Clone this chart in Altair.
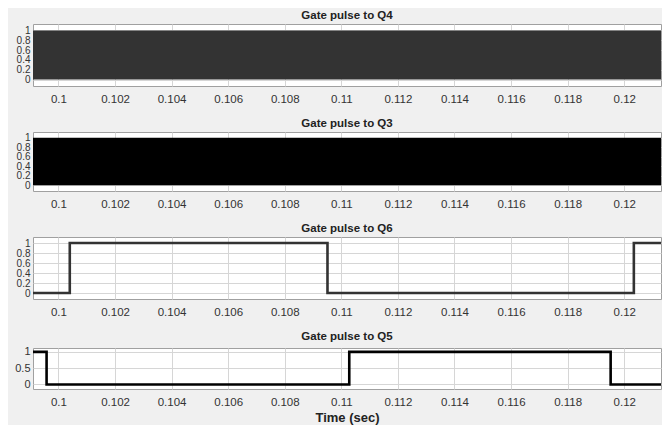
import altair as alt
import pandas as pd

# ---- data ----
x_domain = [0.0991, 0.1213]
x_ticks = [0.1, 0.102, 0.104, 0.106, 0.108, 0.11, 0.112, 0.114, 0.116, 0.118, 0.12]
y_ticks_fine = [0, 0.2, 0.4, 0.6, 0.8, 1]
y_ticks_coarse = [0, 0.5, 1]

titles = ["Gate pulse to Q4", "Gate pulse to Q3", "Gate pulse to Q6", "Gate pulse to Q5"]

# Q4 / Q3: high-frequency PWM, rendered as a solid band between 0 and 1
q4_t0 = [0.0991]
q4_t1 = [0.1213]
q4_lo = [0]
q4_hi = [1]
q3_t0 = [0.0991]
q3_t1 = [0.1213]
q3_lo = [0]
q3_hi = [1]

# Q6 / Q5: low-frequency gate pulses (switching instants)
q6_t = [0.0991, 0.1004, 0.10951, 0.12034, 0.1213]
q6_v = [0, 1, 0, 1, 1]
q5_t = [0.0991, 0.09958, 0.11028, 0.11952, 0.1213]
q5_v = [1, 0, 1, 0, 0]

FONT = "Liberation Sans, Arial, Helvetica, sans-serif"
W = 628


def xenc(title=None):
    return alt.X(
        "t:Q",
        scale=alt.Scale(domain=x_domain, nice=False, zero=False),
        axis=alt.Axis(
            values=x_ticks, format="~g", grid=True, ticks=False, domain=False,
            labelPadding=7, labelFontSize=11.5, minExtent=18, maxExtent=18, titlePadding=4,
            titleFont=FONT, titleFontSize=13, titleFontWeight="bold", titleColor="#222222",
        ),
        title=title,
    )


def yenc(field, ticks, dom, size):
    return alt.Y(
        f"{field}:Q",
        scale=alt.Scale(domain=dom, nice=False, zero=False),
        axis=alt.Axis(
            values=ticks, format="~g", grid=True, ticks=False, domain=False,
            labelPadding=3, minExtent=24, maxExtent=24, labelOverlap=False,
            labelFontSize=size,
        ),
        title=None,
    )


def ttl(text):
    return alt.TitleParams(text, fontSize=11.5, fontWeight="bold", font=FONT,
                           offset=3, anchor="middle", color="#222222")


q4_df = pd.DataFrame({"t": q4_t0, "t1": q4_t1, "lo": q4_lo, "hi": q4_hi})
q3_df = pd.DataFrame({"t": q3_t0, "t1": q3_t1, "lo": q3_lo, "hi": q3_hi})
q6_df = pd.DataFrame({"t": q6_t, "v": q6_v})
q5_df = pd.DataFrame({"t": q5_t, "v": q5_v})

p1 = alt.Chart(q4_df).mark_rect(color="#333333", clip=True).encode(
    x=xenc(), x2="t1:Q", y=yenc("lo", y_ticks_fine, [-0.13, 1.13], 10), y2="hi:Q"
).properties(width=W, height=62, title=ttl(titles[0]))

p2 = alt.Chart(q3_df).mark_rect(color="#000000", clip=True).encode(
    x=xenc(), x2="t1:Q", y=yenc("lo", y_ticks_fine, [-0.12, 1.12], 10), y2="hi:Q"
).properties(width=W, height=59, title=ttl(titles[1]))

p3 = alt.Chart(q6_df).mark_line(color="#333333", strokeWidth=2.6,
                                interpolate="step-after", clip=True).encode(
    x=xenc(), y=yenc("v", y_ticks_fine, [-0.12, 1.12], 10)
).properties(width=W, height=62, title=ttl(titles[2]))

p4 = alt.Chart(q5_df).mark_line(color="#000000", strokeWidth=2.6,
                                interpolate="step-after", clip=True).encode(
    x=xenc("Time (sec)"), y=yenc("v", y_ticks_coarse, [-0.14, 1.12], 11)
).properties(width=W, height=41, title=ttl(titles[3]))

chart = alt.vconcat(p1, p2, p3, p4, spacing=12).configure(
    background="#f0f0f0",
    padding={"top": 1, "left": 0, "right": 0, "bottom": 0},
).configure_view(
    fill="white", stroke="#a0a0a0", strokeWidth=1
).configure_axis(
    labelFont=FONT, labelFontSize=11, labelColor="#333333",
    gridColor="#d6d6d6", gridWidth=1,
)

chart.save("out.html", embed_options={"renderer": "svg", "actions": False})
